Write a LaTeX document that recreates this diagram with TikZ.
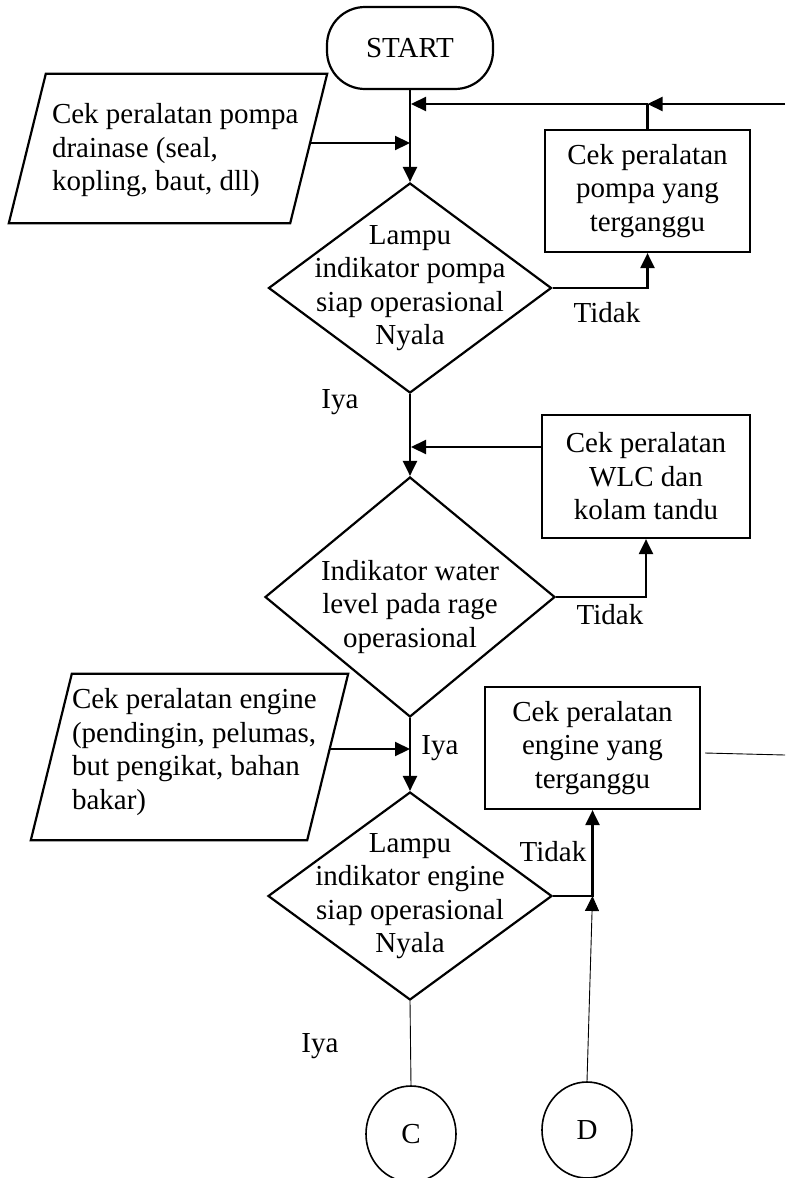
\documentclass[tikz,border=0pt]{standalone}
\usepackage{fontspec}
\setmainfont{Liberation Serif}
\usetikzlibrary{arrows.meta,shapes.geometric,calc}

\begin{document}
\begin{tikzpicture}[x=1pt,y=-1pt,
  every node/.style={font=\fontsize{29}{33.5}\selectfont, inner sep=0pt},
  line/.style={line width=2.2pt},
  hair/.style={line width=0.9pt},
  tip/.style={-{Triangle[width=14pt,length=15pt]}},
  arrow/.style={line, tip},
  terminal/.style={draw, line width=2.2pt, rounded corners=38pt,
    minimum width=166pt, minimum height=82pt},
  process/.style={draw, line width=2.2pt, align=center},
  decision/.style={diamond, draw, line width=2.2pt},
  iobox/.style={draw=none},
  connector/.style={ellipse, draw, line width=1.6pt,
    minimum width=90pt, minimum height=96pt},
  txt/.style={align=center}
]
\useasboundingbox (0,0) rectangle (785,1178);

% --- process nodes ---
\node[terminal] (start) at (410,48) {START};

\node[iobox, minimum width=281pt, minimum height=149pt,
  label={[anchor=west, align=left, xshift=24.5pt, yshift=-2pt]west:{Cek peralatan pompa\\drainase (seal,\\kopling, baut, dll)}}]
  (p1) at (168,148.5) {};
\draw[line] ($(p1.north west)+(18.5,0)$) -- ($(p1.north east)+(18.5,0)$)
  -- ($(p1.south east)+(-18.5,0)$) -- ($(p1.south west)+(-18.5,0)$) -- cycle;

\node[process, minimum width=205pt, minimum height=122pt] (b1) at (647.5,191)
  {Cek peralatan\\pompa yang\\terganggu};

\node[decision, minimum width=283pt, minimum height=210pt,
  label={[txt]center:{Lampu\\indikator pompa\\siap operasional\\Nyala}}]
  (d1) at (410,288) {};

\node[process, minimum width=208pt, minimum height=123pt] (b2) at (646,476.5)
  {Cek peralatan\\WLC dan\\kolam tandu};

\node[decision, minimum width=290pt, minimum height=240pt,
  label={[txt, yshift=-10pt]center:{Indikator water\\level pada rage\\operasional}}]
  (d2) at (410,597) {};

\node[iobox, minimum width=276pt, minimum height=166pt,
  label={[anchor=west, align=left, xshift=20.5pt, yshift=5pt]west:{Cek peralatan engine\\(pendingin, pelumas,\\but pengikat, bahan\\bakar)}}]
  (p2) at (189.5,757) {};
\draw[line] ($(p2.north west)+(20.5,0)$) -- ($(p2.north east)+(20.5,0)$)
  -- ($(p2.south east)+(-20.5,0)$) -- ($(p2.south west)+(-20.5,0)$) -- cycle;

\node[process, minimum width=215pt, minimum height=122pt] (b3) at (592.5,748)
  {Cek peralatan\\engine yang\\terganggu};

\node[decision, minimum width=284pt, minimum height=208pt,
  label={[txt]center:{Lampu\\indikator engine\\siap operasional\\Nyala}}]
  (d3) at (410,896) {};

\node[connector] (C) at (411,1134) {C};
\node[connector] (D) at (587,1130) {D};

% --- branch labels ---
\node (t1) at (607,313) {Tidak};
\node (y1) at (340,402) {Iya};
\node (t2) at (610,615) {Tidak};
\node (y2) at (440,748) {Iya};
\node (t3) at (553,852) {Tidak};
\node (y3) at (320,1046) {Iya};

% --- junctions and free ends ---
\coordinate (rt) at (785,104);
\coordinate (j0) at (411,104);
\coordinate (j1) at (410,143);
\coordinate (j2) at (411,447);
\coordinate (j3) at (410,749);
\coordinate (re) at (785,755);

% --- connectors ---
\draw[arrow] (start.south) -- (d1.north);
\draw[arrow] (rt) -- (b1.north |- rt);
\draw[arrow] (b1.north |- rt) -- (j0);
\draw[line] (b1.north) -- (b1.north |- rt);
\draw[arrow] ($(p1.east)+(2,-5.5)$) -- (j1);
\draw[arrow] (d1.east) -| (b1.south);

\draw[arrow] (d1.south) -- (d2.north);
\draw[arrow] (b2.west |- j2) -- (j2);
\draw[arrow] (d2.east) -| (b2.south);

\draw[arrow] (d2.south) -- (d3.north);
\draw[arrow] ($(p2.east)+(2,-8)$) -- (j3);
\draw[arrow] (d3.east) -| (b3.south);
\draw[hair] ($(b3.east)+(4,5)$) -- (re);

\draw[hair] (d3.south) -- (C.north);
\draw[hair, tip] (D.north) -- (b3.south |- d3.east);
\end{tikzpicture}
\end{document}
